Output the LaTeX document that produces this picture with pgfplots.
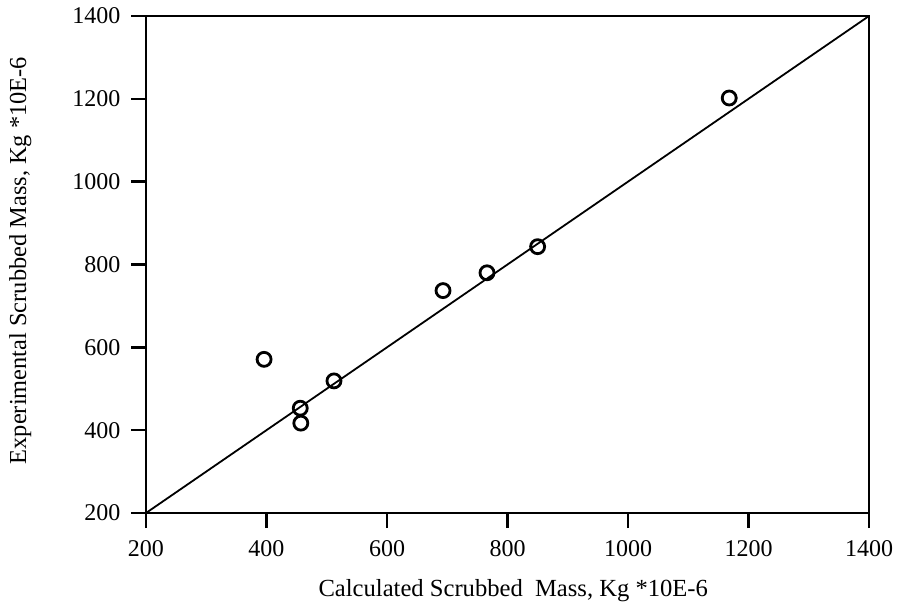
\documentclass[border=0pt]{standalone}
\usepackage{fontspec}
\setmainfont{Liberation Serif}
\usepackage{pgfplots}
\pgfplotsset{compat=1.18}
\begin{document}
\begin{tikzpicture}
\begin{axis}[
  width=723pt, height=497pt, scale only axis,
  xmin=200, xmax=1400, ymin=200, ymax=1400,
  xtick={200,400,...,1400}, ytick={200,400,...,1400},
  xtick pos=bottom, ytick pos=left,
  xtick align=outside, ytick align=outside, major tick length=15pt,
  separate axis lines,
  axis line style={line width=2.8pt, black},
  xtick style={line width=2.4pt, black},
  ytick style={line width=2.4pt, black},
  x tick label style={font=\fontsize{24}{26}\selectfont, yshift=-9pt},
  y tick label style={font=\fontsize{24}{26}\selectfont, xshift=-7pt},
  /pgf/number format/assume math mode=true,
  /pgf/number format/1000 sep={},
  xlabel={Calculated Scrubbed\ \ Mass, Kg *10E-6},
  ylabel={Experimental Scrubbed Mass, Kg *10E-6},
  xlabel style={font=\fontsize{24.6}{26}\selectfont, at={(axis description cs:0.508,-0.157)}, anchor=center},
  ylabel style={font=\fontsize{24.4}{26}\selectfont, at={(axis description cs:-0.174,0.508)}, anchor=center},
  clip=false,
]
\addplot[black, line width=1.8pt, no marks] coordinates {(200,200) (1400,1400)};
\addplot[only marks, mark=o, mark size=7pt, mark options={line width=2.8pt, black, fill=white}]
 coordinates {
 (396,571) (456,453) (457,417) (512,519) (693,737) (766,780) (850,843) (1168,1202)
 };
\pgfplotsinvokeforeach{200,400,600,800,1000,1200,1400}{
  \draw[line width=2.4pt, black] (axis cs:#1,200) -- ++(0pt,-15pt);
  \draw[line width=2.4pt, black] (axis cs:200,#1) -- ++(-15pt,0pt);
}
\draw[line width=2.8pt, black] (axis cs:200,200) rectangle (axis cs:1400,1400);
\end{axis}
\path (current axis.south west) ++(-146pt,-93pt) coordinate (bbA);
\path (current axis.north east) ++(28pt,16pt) coordinate (bbB);
\path (bbA) rectangle (bbB);
\end{tikzpicture}
\end{document}
